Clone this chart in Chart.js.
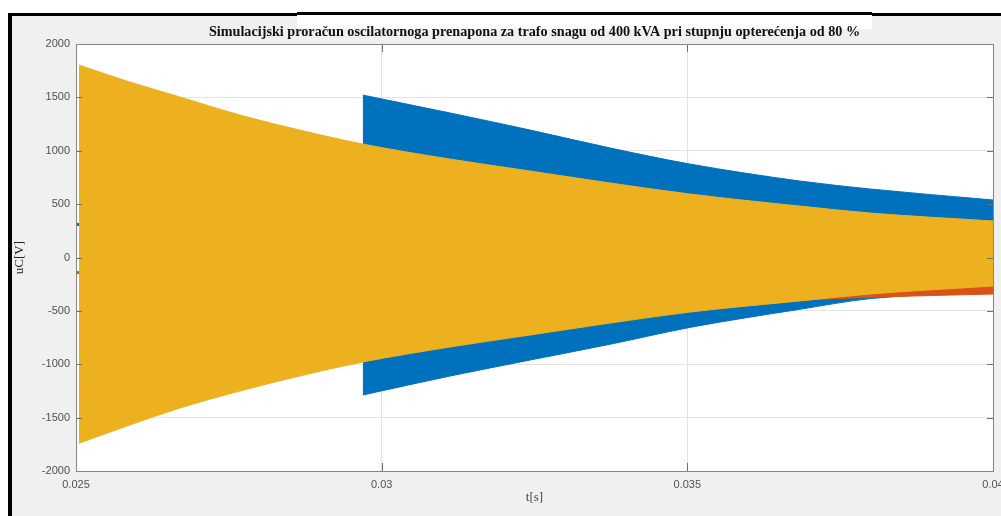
<!DOCTYPE html>
<html>
<head>
<meta charset="utf-8">
<title>uC(t)</title>
<script src="https://cdn.jsdelivr.net/npm/chart.js@4.4.1/dist/chart.umd.min.js"></script>
<style>
    html, body { margin: 0; padding: 0; width: 1001px; height: 516px; overflow: hidden; background: #fff; }
    .frame { position: absolute; left: 8px; top: 13px; width: 1001px; height: 520px; background: #f0f0f0; border-left: 4px solid #000; border-top: 3px solid #000; }
    .title-box { position: absolute; left: 297px; top: 12px; width: 575px; height: 14px; background: #fff; border-top: 3px solid #000; }
    #chart { position: absolute; left: 0; top: 0; }
</style>
</head>
<body>
<div class="frame"></div>
<div class="title-box"></div>
<canvas id="chart" width="1030" height="516"></canvas>
<script>
const xTicks = [0.025, 0.03, 0.035, 0.04];
const xTickLabels = ['0.025', '0.03', '0.035', '0.04'];
const yTicks = [-2000, -1500, -1000, -500, 0, 500, 1000, 1500, 2000];
const yTickLabels = ['-2000', '-1500', '-1000', '-500', '0', '500', '1000', '1500', '2000'];

// envelopes (max / min) of each oscillating signal
const yellowT  = [0.02505, 0.02588, 0.0267, 0.02768, 0.02866, 0.02969, 0.03112, 0.03243, 0.03374, 0.03504, 0.03684, 0.03799, 0.04];
const yellowHi = [1803, 1644, 1504, 1335, 1194, 1063, 922, 810, 698, 595, 482, 417, 342];
const yellowLo = [-1740, -1569, -1410, -1251, -1110, -979, -838, -726, -614, -511, -407, -342, -267];

// orange and blue stay small until the switching at t = 0.02969 s
const orangeEarlyT  = [0.025, 0.02968];
const orangeEarlyHi = [-130, -130];
const orangeEarlyLo = [-150, -150];
const orangeT  = [0.02969, 0.0335, 0.03684, 0.03799, 0.04];
const orangeHi = [700, 500, 380, 340, 300];
const orangeLo = [-700, -480, -400, -372, -342];

const blueEarlyT  = [0.025, 0.02968];
const blueEarlyHi = [320, 320];
const blueEarlyLo = [300, 300];
const blueT  = [0.02969, 0.03112, 0.03243, 0.03374, 0.03504, 0.03684, 0.03799, 0.04];
const blueHi = [1522, 1354, 1194, 1026, 876, 717, 642, 539];
const blueLo = [-1288, -1110, -960, -812, -655, -485, -385, -320];

const matlabAxes = {
    id: 'matlabAxes',
    beforeDraw(chart) {
        const { ctx, chartArea: { left, right, top, bottom } } = chart;
        ctx.save();
        ctx.fillStyle = '#ffffff';
        ctx.fillRect(left, top, right - left, bottom - top);
        ctx.restore();
    },
    afterDraw(chart) {
        const { ctx, chartArea: { left, right, top, bottom }, scales: { x, y } } = chart;
        ctx.save();
        ctx.lineWidth = 1;
        ctx.strokeStyle = '#6e6e6e';
        ctx.beginPath();
        xTicks.forEach((v) => {
            const px = Math.round(x.getPixelForValue(v)) + 0.5;
            ctx.moveTo(px, bottom); ctx.lineTo(px, bottom - 8);
            ctx.moveTo(px, top); ctx.lineTo(px, top + 8);
        });
        yTicks.forEach((v) => {
            const py = Math.round(y.getPixelForValue(v)) + 0.5;
            ctx.moveTo(left, py); ctx.lineTo(left + 6, py);
            ctx.moveTo(right, py); ctx.lineTo(right - 6, py);
        });
        ctx.stroke();
        ctx.strokeStyle = '#858585';
        ctx.strokeRect(Math.round(left) + 0.5, Math.round(top) + 0.5, Math.round(right - left), Math.round(bottom - top));
        ctx.restore();
    }
};

function band(name, ts, hi, lo, color) {
    const common = {
        borderColor: color,
        backgroundColor: color,
        borderWidth: 1,
        pointRadius: 0,
        cubicInterpolationMode: 'monotone'
    };
    return [
        { ...common, label: name, data: ts.map((t, i) => ({ x: t, y: hi[i] })), fill: '+1' },
        { ...common, label: name + ' min', data: ts.map((t, i) => ({ x: t, y: lo[i] })), fill: false }
    ];
}

const tickFont = { family: '"Liberation Sans", Arial, sans-serif', size: 11 };
const serifFont = { family: '"Liberation Serif", "Times New Roman", serif', size: 13 };

new Chart(document.getElementById('chart'), {
    type: 'line',
    data: {
        datasets: [
            ...band('uC3', yellowT, yellowHi, yellowLo, '#EDB120'),
            ...band('uC2', orangeT, orangeHi, orangeLo, '#D95319'),
            ...band('uC2 start', orangeEarlyT, orangeEarlyHi, orangeEarlyLo, '#D95319'),
            ...band('uC1', blueT, blueHi, blueLo, '#0072BD'),
            ...band('uC1 start', blueEarlyT, blueEarlyHi, blueEarlyLo, '#0072BD')
        ]
    },
    options: {
        responsive: false,
        animation: false,
        events: [],
        devicePixelRatio: 1,
        layout: { padding: { top: 17, left: 0, right: 37, bottom: 0 } },
        scales: {
            x: {
                type: 'linear',
                min: 0.025,
                max: 0.04,
                afterBuildTicks: (axis) => { axis.ticks = xTicks.map((v) => ({ value: v })); },
                afterFit: (axis) => { axis.height = 45; },
                border: { display: false },
                grid: { color: '#e3e3e3', drawTicks: false },
                ticks: {
                    padding: 7,
                    color: '#505050',
                    font: tickFont,
                    maxRotation: 0,
                    autoSkip: false,
                    callback: (v, i) => xTickLabels[i]
                },
                title: { display: true, text: 't[s]', color: '#444', font: serifFont, padding: { top: 0, bottom: 11 } }
            },
            y: {
                min: -2000,
                max: 2000,
                afterBuildTicks: (axis) => { axis.ticks = yTicks.map((v) => ({ value: v })); },
                afterFit: (axis) => { axis.width = 76; },
                border: { display: false },
                grid: { color: '#e3e3e3', drawTicks: false },
                ticks: {
                    padding: 6,
                    color: '#505050',
                    font: tickFont,
                    autoSkip: false,
                    callback: (v, i) => yTickLabels[i]
                },
                title: { display: true, text: 'uC[V]', color: '#222', font: serifFont, padding: { top: 12, bottom: 0 } }
            }
        },
        plugins: {
            legend: { display: false },
            tooltip: { enabled: false },
            title: {
                display: true,
                fullSize: false,
                text: 'Simulacijski proračun oscilatornoga prenapona za trafo snagu od 400 kVA pri stupnju opterećenja od 80 %',
                color: '#111',
                font: { family: '"Liberation Serif", "Times New Roman", serif', size: 14.2, weight: 'bold' },
                padding: { top: 7, bottom: 3 }
            }
        }
    },
    plugins: [matlabAxes]
});
</script>
</body>
</html>
